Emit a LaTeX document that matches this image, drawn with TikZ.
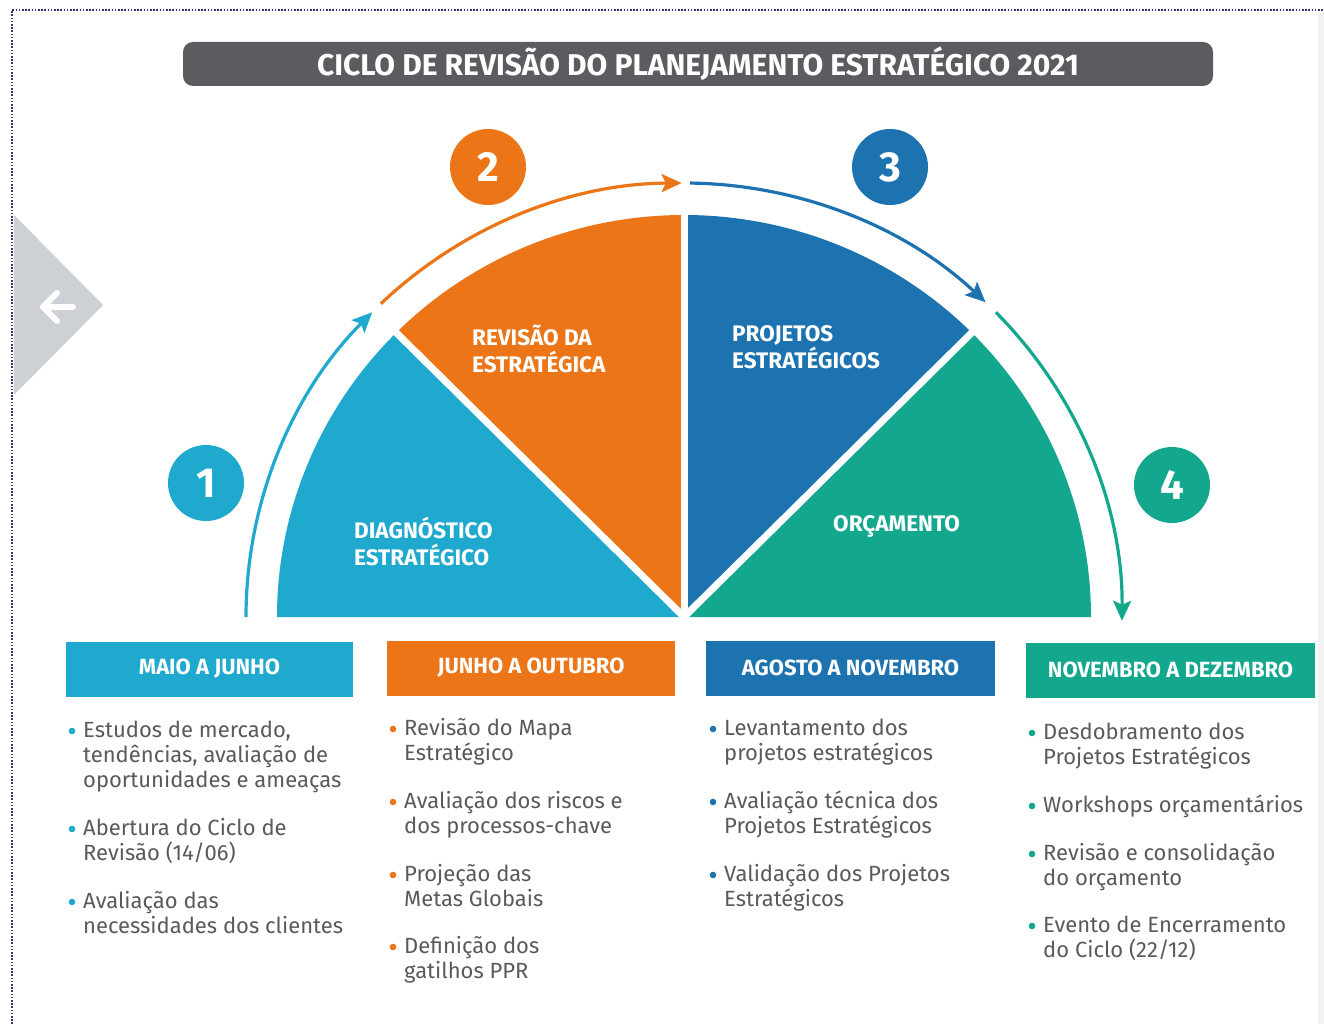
\documentclass[tikz,border=0pt]{standalone}
\usepackage{fontspec}
\setmainfont{Fira Sans}
\usetikzlibrary{arrows.meta,calc}
\definecolor{ccyan}{HTML}{1FA9CF}
\definecolor{corange}{HTML}{EC7518}
\definecolor{cblue}{HTML}{1D72B0}
\definecolor{cteal}{HTML}{13A88E}
\definecolor{ctitle}{HTML}{5B5B60}
\definecolor{ctext}{HTML}{5A5A5A}
\definecolor{cnav}{HTML}{CDD1D6}
\definecolor{cdot}{HTML}{3F2F78}
% colour, name, x, first baseline y, number of lines, text
\newcommand\bul[6]{%
  \node[body] (#2) at (#3,{#4-25*(#5-1)}) {#6};
  \fill[#1] (#3-11,#4+6) circle (3.3pt);}
\begin{document}
\begin{tikzpicture}[x=1pt,y=1pt,
  numc/.style={circle, minimum size=76pt, inner sep=0pt, text=white,
    font=\bfseries\fontsize{42}{42}\selectfont},
  hdr/.style={minimum height=55pt, inner sep=0pt, text=white,
    font=\bfseries\fontsize{22}{22}\selectfont},
  slab/.style={text=white, align=left, anchor=base west, inner sep=0pt,
    font=\bfseries\fontsize{22.5}{27}\selectfont},
  body/.style={text=ctext, align=left, anchor=base west, inner sep=0pt,
    font=\fontsize{22}{25}\selectfont},
  arr/.style={line width=3.2pt, -{Stealth[length=20pt,width=18pt,inset=4pt]}},
  sep/.style={white, line width=7pt}]
\useasboundingbox (0,0) rectangle (1324,-1024);
\fill[white] (0,0) rectangle (1324,-1024);
% screen frame elements
\fill[gray!10] (1318,-12) rectangle (1324,-1024);
\draw[cdot, line width=1.6pt, dash pattern=on 1.6pt off 1.6pt] (12,-1024) -- (12,-10) -- (1324,-10);
\fill[cnav] (14,-215) -- (103,-305) -- (14,-395) -- cycle;
\draw[white, line width=6pt, line cap=round, line join=round]
  (73,-307) -- (43,-307) (57,-293) -- (43,-307) -- (57,-321);
% title
\node[fill=ctitle, rounded corners=10pt, minimum width=1030pt, minimum height=44pt,
  inner sep=0pt, text=white, font=\bfseries\fontsize{30}{30}\selectfont]
  (title) at (698,-64) {CICLO DE REVISÃO DO PLANEJAMENTO ESTRATÉGICO 2021};
% semicircle
\coordinate (C) at (684,-617);
\fill[ccyan] (C) -- +(180:407 and 402) arc[start angle=180,end angle=135,x radius=407,y radius=402] -- cycle;
\fill[corange] (C) -- +(135:407 and 402) arc[start angle=135,end angle=90,x radius=407,y radius=402] -- cycle;
\fill[cblue] (C) -- +(90:407 and 402) arc[start angle=90,end angle=45,x radius=407,y radius=402] -- cycle;
\fill[cteal] (C) -- +(45:407 and 402) arc[start angle=45,end angle=0,x radius=407,y radius=402] -- cycle;
\draw[sep] (C) -- +(135:420 and 415);
\draw[sep] (C) -- +(90:420 and 415);
\draw[sep] (C) -- +(45:420 and 415);
% outer arrows
\draw[arr, ccyan] ($(C)+(180:438 and 434)$) arc[start angle=180,end angle=135.4,x radius=438,y radius=434];
\draw[arr, corange] ($(C)+(133.8:438 and 434)$) arc[start angle=133.8,end angle=90.3,x radius=438,y radius=434];
\draw[arr, cblue] ($(C)+(89.2:438 and 434)$) arc[start angle=89.2,end angle=46.5,x radius=438,y radius=434];
\draw[arr, cteal] ($(C)+(44.6:438 and 434)$) arc[start angle=44.6,end angle=-0.5,x radius=438,y radius=434];
% number circles
\node[numc, fill=ccyan] (n1) at (206,-483) {1};
\node[numc, fill=corange] (n2) at (488,-167) {2};
\node[numc, fill=cblue] (n3) at (890,-167) {3};
\node[numc, fill=cteal] (n4) at (1172,-485) {4};
% slice labels (anchored at the baseline of the last line)
\node[slab] (s1) at (354,-565) {DIAGNÓSTICO\\ESTRATÉGICO};
\node[slab] (s2) at (472,-372) {REVISÃO DA\\ESTRATÉGICA};
\node[slab] (s3) at (732,-368) {PROJETOS\\ESTRATÉGICOS};
\node[slab] (s4) at (833,-531) {ORÇAMENTO};
% headers
\node[hdr, fill=ccyan, minimum width=287pt] (h1) at (209.5,-669) {MAIO A JUNHO};
\node[hdr, fill=corange, minimum width=288pt] (h2) at (531,-668) {JUNHO A OUTUBRO};
\node[hdr, fill=cblue, minimum width=289pt] (h3) at (850.5,-668) {AGOSTO A NOVEMBRO};
\node[hdr, fill=cteal, minimum width=289pt] (h4) at (1170.5,-670) {NOVEMBRO A DEZEMBRO};
% column 1
\bul{ccyan}{a1}{83}{-737}{3}{Estudos de mercado,\\tendências, avaliação de\\oportunidades e ameaças}
\bul{ccyan}{a2}{83}{-835}{2}{Abertura do Ciclo de\\Revisão (14/06)}
\bul{ccyan}{a3}{83}{-908}{2}{Avaliação das\\necessidades dos clientes}
% column 2
\bul{corange}{b1}{404}{-735}{2}{Revisão do Mapa\\Estratégico}
\bul{corange}{b2}{404}{-808}{2}{Avaliação dos riscos e\\dos processos-chave}
\bul{corange}{b3}{404}{-881}{2}{Projeção das\\Metas Globais}
\bul{corange}{b4}{404}{-953}{2}{Definição dos\\gatilhos PPR}
% column 3
\bul{cblue}{c1}{724}{-735}{2}{Levantamento dos\\projetos estratégicos}
\bul{cblue}{c2}{724}{-808}{2}{Avaliação técnica dos\\Projetos Estratégicos}
\bul{cblue}{c3}{724}{-881}{2}{Validação dos Projetos\\Estratégicos}
% column 4
\bul{cteal}{d1}{1043}{-739}{2}{Desdobramento dos\\Projetos Estratégicos}
\bul{cteal}{d2}{1043}{-812}{1}{Workshops orçamentários}
\bul{cteal}{d3}{1043}{-860}{2}{Revisão e consolidação\\do orçamento}
\bul{cteal}{d4}{1043}{-932}{2}{Evento de Encerramento\\do Ciclo (22/12)}
\end{tikzpicture}
\end{document}
